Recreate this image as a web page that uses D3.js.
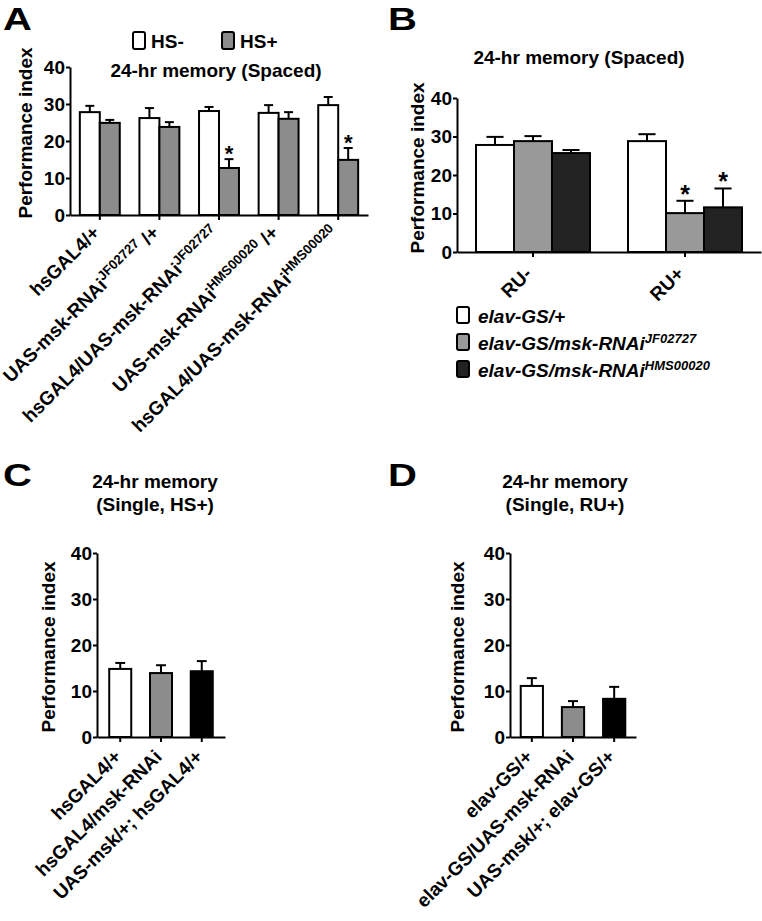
<!DOCTYPE html>
<html><head><meta charset="utf-8">
<script src="https://cdnjs.cloudflare.com/ajax/libs/d3/7.8.5/d3.min.js"></script>
<style>body{margin:0;background:#fff}svg{display:block}</style>
</head><body>
<svg id="fig" width="762" height="921"></svg>
<script>
// ---------- DATA ----------
const yTicks = [0, 10, 20, 30, 40];

// Panel A
const labelsA = [["hsGAL4/+", "", ""], ["UAS-msk-RNAi", "JF02727", " /+"], ["hsGAL4/UAS-msk-RNAi", "JF02727", ""], ["UAS-msk-RNAi", "HMS00020", " /+"], ["hsGAL4/UAS-msk-RNAi", "HMS00020", ""]];
const seriesA = ["HS-", "HS+"];
const hsMinus = [27.8, 26.2, 28.1, 27.6, 29.7];
const hsMinusErr = [1.7, 2.7, 1.1, 2.1, 2.2];
const hsPlus = [24.9, 23.8, 12.7, 26.0, 14.9];
const hsPlusErr = [0.8, 1.3, 2.4, 1.8, 3.2];
const sigA = [[], [2, 4]];

// Panel B
const groupsB = ["RU-", "RU+"];
const seriesB = [["elav-GS/+", ""], ["elav-GS/msk-RNAi", "JF02727"], ["elav-GS/msk-RNAi", "HMS00020"]];
const elavGS = [27.8, 28.8];
const elavGSErr = [2.1, 1.8];
const rnaiJF = [28.8, 10.1];
const rnaiJFErr = [1.3, 3.2];
const rnaiHMS = [25.7, 11.6];
const rnaiHMSErr = [0.8, 4.9];
const sigB = [[], [1], [1]];

// Panel C
const labelsC = ["hsGAL4/+", "hsGAL4/msk-RNAi", "UAS-msk/+; hsGAL4/+"];
const valuesC = [14.8, 13.9, 14.3];
const errC = [1.3, 1.7, 2.2];

// Panel D
const labelsD = ["elav-GS/+", "elav-GS/UAS-msk-RNAi", "UAS-msk/+; elav-GS/+"];
const valuesD = [11.1, 6.5, 8.3];
const errD = [1.7, 1.3, 2.6];

// ---------- STYLE ----------
const FONT = "'Liberation Sans', Arial, Helvetica, sans-serif";
const FS = 19;
const svg = d3.select("#fig");

function txt(g, x, y, s, size, opts = {}) {
  return g.append("text").attr("x", x).attr("y", y)
    .attr("font-family", FONT).attr("font-weight", "bold")
    .attr("font-size", size).attr("font-style", opts.italic ? "italic" : "normal")
    .attr("text-anchor", opts.anchor || "start").attr("fill", "#000").text(s);
}

function panelLetter(x, y, s) {
  svg.append("text").attr("transform", `translate(${x},${y}) scale(1.25,1)`)
    .attr("font-family", FONT).attr("font-weight", "bold").attr("font-size", 32)
    .attr("fill", "#000").text(s);
}

function axes(g, x, y) {
  const ya = g.append("g").attr("transform", `translate(${x.range()[0]},0)`)
    .call(d3.axisLeft(y).tickValues(yTicks).tickSize(4).tickSizeOuter(0).tickPadding(1));
  const xa = g.append("g").attr("transform", `translate(0,${y(0)})`)
    .call(d3.axisBottom(x).tickSize(5).tickSizeOuter(0).tickFormat(""));
  [ya, xa].forEach(a => {
    a.selectAll("path,line").attr("stroke", "#000").attr("stroke-width", 2);
    a.selectAll("text").attr("font-family", FONT).attr("font-weight", "bold")
      .attr("font-size", FS).attr("fill", "#000");
  });
}

function bar(g, x0, w, y, v, e, fill) {
  g.append("rect").attr("x", x0).attr("y", y(v)).attr("width", w).attr("height", y(0) - y(v))
    .attr("fill", fill).attr("stroke", "#000").attr("stroke-width", 2);
  const cx = x0 + w / 2, cw = w * 0.45;
  g.append("line").attr("x1", cx).attr("x2", cx).attr("y1", y(v)).attr("y2", y(v + e))
    .attr("stroke", "#000").attr("stroke-width", 2);
  g.append("line").attr("x1", cx - cw / 2).attr("x2", cx + cw / 2).attr("y1", y(v + e)).attr("y2", y(v + e))
    .attr("stroke", "#000").attr("stroke-width", 2);
}

function star(g, cx, yTop, size) {
  txt(g, cx, yTop + 2, "*", size, { anchor: "middle" });
}

function xLabel(g, cx, cy, parts, size, italic) {
  const t = g.append("text").attr("transform", `translate(${cx},${cy}) rotate(-45)`)
    .attr("text-anchor", "end").attr("font-family", FONT).attr("font-weight", "bold")
    .attr("font-style", italic ? "italic" : "normal").attr("font-size", size).attr("fill", "#000");
  t.append("tspan").text(parts[0]);
  const sh = size * 0.38;
  if (parts[1]) t.append("tspan").attr("dy", -sh).attr("font-size", size * 0.7).text(parts[1]);
  if (parts[2]) t.append("tspan").attr("dy", parts[1] ? sh : 0).text(parts[2]);
}

function yLabel(g, x, y) {
  g.append("text").attr("transform", `translate(${x},${y}) rotate(-90)`)
    .attr("text-anchor", "middle").attr("font-family", FONT).attr("font-weight", "bold")
    .attr("font-size", FS).attr("fill", "#000").text("Performance index");
}

// ---------- PANEL A ----------
{
  const g = svg.append("g");
  const keys = labelsA.map(d => d.join(""));
  const x = d3.scaleBand().domain(keys).range([70, 368]).paddingInner(0.33).paddingOuter(0.165);
  const xs = d3.scaleBand().domain(seriesA).range([0, x.bandwidth()]);
  const y = d3.scaleLinear().domain([0, 40]).range([215, 67]);
  const vals = [hsMinus, hsPlus], errs = [hsMinusErr, hsPlusErr], fills = ["#fff", "#8c8c8c"];
  axes(g, x, y);
  seriesA.forEach((s, si) => {
    keys.forEach((k, i) => {
      bar(g, x(k) + xs(s), xs.bandwidth(), y, vals[si][i], errs[si][i], fills[si]);
      if (sigA[si].includes(i)) star(g, x(k) + xs(s) + xs.bandwidth() / 2, y(vals[si][i] + errs[si][i]), 22);
    });
  });
  keys.forEach((k, i) => xLabel(g, x(k) + x.bandwidth() / 2 + 1, y(0) + 19, labelsA[i], FS, false));
  yLabel(g, 32, 133);
  txt(g, 216, 77, "24-hr memory (Spaced)", FS, { anchor: "middle" });
  // legend
  seriesA.forEach((s, si) => {
    const lx = [133, 222][si];
    g.append("rect").attr("x", lx).attr("y", 32).attr("width", 12).attr("height", 17).attr("rx", 2)
      .attr("fill", fills[si]).attr("stroke", "#000").attr("stroke-width", 2);
    txt(g, lx + 18, 48, s, FS);
  });
  panelLetter(3, 30, "A");
}

// ---------- PANEL B ----------
{
  const g = svg.append("g");
  const keys = seriesB.map(d => d.join(""));
  const x = d3.scaleBand().domain(groupsB).range([457, 761]).paddingInner(0.25).paddingOuter(0.125);
  const xs = d3.scaleBand().domain(keys).range([0, x.bandwidth()]);
  const y = d3.scaleLinear().domain([0, 40]).range([252, 98]);
  const vals = [elavGS, rnaiJF, rnaiHMS], errs = [elavGSErr, rnaiJFErr, rnaiHMSErr];
  const fills = ["#fff", "#999999", "#222222"];
  axes(g, x, y);
  keys.forEach((s, si) => {
    groupsB.forEach((k, i) => {
      bar(g, x(k) + xs(s), xs.bandwidth(), y, vals[si][i], errs[si][i], fills[si]);
      if (sigB[si].includes(i)) star(g, x(k) + xs(s) + xs.bandwidth() / 2, y(vals[si][i] + errs[si][i]), 25);
    });
  });
  groupsB.forEach(k => xLabel(g, x(k) + x.bandwidth() / 2, y(0) + 23, [k, "", ""], FS, false));
  yLabel(g, 424, 168);
  txt(g, 579, 64, "24-hr memory (Spaced)", FS, { anchor: "middle" });
  seriesB.forEach((s, si) => {
    const ly = [307, 334, 361][si];
    g.append("rect").attr("x", 457).attr("y", ly).attr("width", 12).attr("height", 16).attr("rx", 2)
      .attr("fill", fills[si]).attr("stroke", "#000").attr("stroke-width", 2);
    const t = txt(g, 478, ly + 16, "", FS, { italic: true });
    t.append("tspan").text(s[0]);
    if (s[1]) t.append("tspan").attr("dy", -7).attr("font-size", 13).text(s[1]);
  });
  panelLetter(388, 30, "B");
}

// ---------- PANEL C & D ----------
function singlePanel(labels, values, errs, xr, po, letter, lx, title2, tcx, ylx) {
  const g = svg.append("g");
  const x = d3.scaleBand().domain(labels).range(xr).paddingInner(0.46).paddingOuter(po);
  const y = d3.scaleLinear().domain([0, 40]).range([737, 553]);
  const fills = ["#fff", "#8c8c8c", "#000"];
  axes(g, x, y);
  labels.forEach((k, i) => bar(g, x(k), x.bandwidth(), y, values[i], errs[i], fills[i]));
  labels.forEach(k => xLabel(g, x(k) + x.bandwidth() / 2 + 2, y(0) + 21, [k, "", ""], FS, false));
  yLabel(g, ylx, 647);
  txt(g, tcx, 488, "24-hr memory", FS, { anchor: "middle" });
  txt(g, tcx, 511, title2, FS, { anchor: "middle" });
  panelLetter(lx, 486, letter);
}
singlePanel(labelsC, valuesC, errC, [97, 225], 0.3, "C", 3, "(Single, HS+)", 155, 55);
singlePanel(labelsD, valuesD, errD, [510, 636], 0.26, "D", 388, "(Single, RU+)", 565, 464);
</script>
</body></html>
